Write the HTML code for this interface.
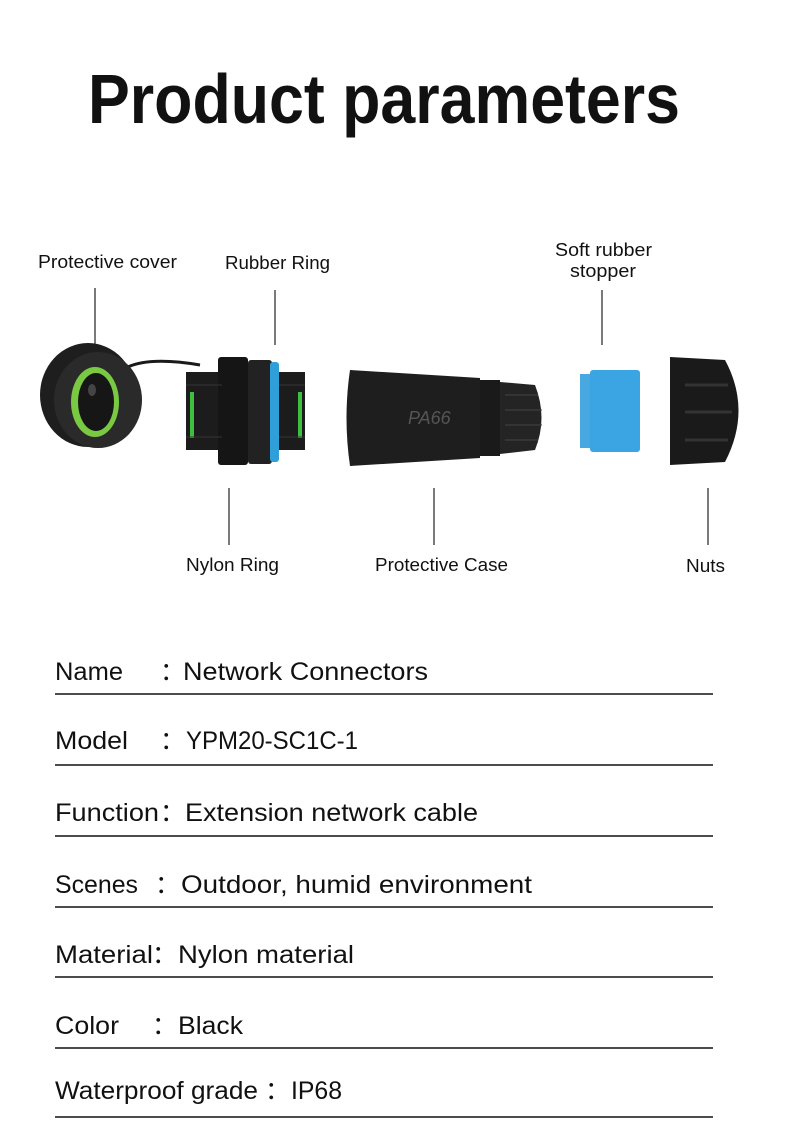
<!DOCTYPE html>
<html><head><meta charset="utf-8"><style>
html,body{margin:0;padding:0;background:#fff;}
svg{display:block;}
text{font-family:"Liberation Sans",sans-serif;fill:#111;}
</style></head><body>
<svg width="790" height="1132" viewBox="0 0 790 1132" xmlns="http://www.w3.org/2000/svg">
<rect width="790" height="1132" fill="#fff"/>
<text x="88" y="123" font-size="70" font-weight="bold" textLength="592" lengthAdjust="spacingAndGlyphs">Product parameters</text>

<g font-size="18">
<text x="38" y="268" textLength="139" lengthAdjust="spacingAndGlyphs">Protective cover</text>
<text x="225" y="269" textLength="105" lengthAdjust="spacingAndGlyphs">Rubber Ring</text>
<text x="555" y="256" textLength="97" lengthAdjust="spacingAndGlyphs">Soft rubber</text>
<text x="570" y="277" textLength="66" lengthAdjust="spacingAndGlyphs">stopper</text>
<text x="186" y="571" textLength="93" lengthAdjust="spacingAndGlyphs">Nylon Ring</text>
<text x="375" y="571" textLength="133" lengthAdjust="spacingAndGlyphs">Protective Case</text>
<text x="686" y="572" textLength="39" lengthAdjust="spacingAndGlyphs">Nuts</text>
</g>
<g stroke="#222" stroke-width="1.2">
<line x1="95" y1="288" x2="95" y2="345"/>
<line x1="275" y1="290" x2="275" y2="345"/>
<line x1="602" y1="290" x2="602" y2="345"/>
<line x1="229" y1="488" x2="229" y2="545"/>
<line x1="434" y1="488" x2="434" y2="545"/>
<line x1="708" y1="488" x2="708" y2="545"/>
</g>

<path d="M120 372 Q140 355 200 365" stroke="#1a1a1a" stroke-width="3" fill="none"/>
<ellipse cx="88" cy="395" rx="48" ry="52" fill="#1e1e1e"/>
<ellipse cx="98" cy="400" rx="44" ry="48" fill="#2a2a2a"/>
<ellipse cx="95" cy="402" rx="24" ry="35" fill="#7ac943"/>
<ellipse cx="96" cy="402" rx="18" ry="29" fill="#161616"/>
<ellipse cx="92" cy="390" rx="4" ry="6" fill="#444"/>

<rect x="186" y="372" width="36" height="78" fill="#1c1c1c"/>
<rect x="190" y="392" width="4" height="46" fill="#3fbf3f"/>
<rect x="218" y="357" width="30" height="108" rx="3" fill="#151515"/>
<rect x="248" y="360" width="24" height="104" rx="3" fill="#222"/>
<rect x="270" y="362" width="9" height="100" rx="3" fill="#2e9fd8"/>
<rect x="279" y="372" width="26" height="78" fill="#1c1c1c"/>
<rect x="298" y="392" width="4" height="46" fill="#3fbf3f"/>
<g stroke="#333" stroke-width="1"><line x1="186" y1="385" x2="222" y2="385"/><line x1="186" y1="437" x2="222" y2="437"/><line x1="279" y1="385" x2="305" y2="385"/><line x1="279" y1="437" x2="305" y2="437"/></g>

<path d="M350 370 L480 378 L480 458 L350 466 Q343 418 350 370 Z" fill="#1e1e1e"/>
<rect x="480" y="380" width="20" height="76" fill="#1a1a1a"/>
<path d="M500 382 L535 385 Q548 418 535 450 L500 454 Z" fill="#242424"/>
<g stroke="#444" stroke-width="1"><line x1="505" y1="395" x2="538" y2="395"/><line x1="505" y1="410" x2="542" y2="410"/><line x1="505" y1="425" x2="542" y2="425"/><line x1="505" y1="440" x2="538" y2="440"/></g>
<text x="408" y="424" font-size="18" font-family="Liberation Serif" font-style="italic" style="fill:#555">PA66</text>

<rect x="580" y="374" width="14" height="74" fill="#4aa8e0"/>
<rect x="590" y="370" width="50" height="82" rx="3" fill="#3aa5e2"/>

<path d="M670 357 L725 360 Q752 410 725 462 L670 465 Z" fill="#1a1a1a"/>
<g stroke="#333" stroke-width="3"><line x1="685" y1="385" x2="728" y2="385"/><line x1="685" y1="412" x2="732" y2="412"/><line x1="685" y1="440" x2="728" y2="440"/></g>

<g font-size="25">
<text x="55" y="680" textLength="68" lengthAdjust="spacingAndGlyphs">Name</text><text x="160" y="680">：</text><text x="183" y="680" textLength="245" lengthAdjust="spacingAndGlyphs">Network Connectors</text>
<text x="55" y="749" textLength="73" lengthAdjust="spacingAndGlyphs">Model</text><text x="160" y="749">：</text><text x="186" y="749" textLength="172" lengthAdjust="spacingAndGlyphs">YPM20-SC1C-1</text>
<text x="55" y="821" textLength="104" lengthAdjust="spacingAndGlyphs">Function</text><text x="160" y="821">：</text><text x="185" y="821" textLength="293" lengthAdjust="spacingAndGlyphs">Extension network cable</text>
<text x="55" y="893" textLength="83" lengthAdjust="spacingAndGlyphs">Scenes</text><text x="155" y="893">：</text><text x="181" y="893" textLength="351" lengthAdjust="spacingAndGlyphs">Outdoor, humid environment</text>
<text x="55" y="963" textLength="98" lengthAdjust="spacingAndGlyphs">Material</text><text x="152" y="963">：</text><text x="178" y="963" textLength="176" lengthAdjust="spacingAndGlyphs">Nylon material</text>
<text x="55" y="1034" textLength="64" lengthAdjust="spacingAndGlyphs">Color</text><text x="152" y="1034">：</text><text x="178" y="1034" textLength="65" lengthAdjust="spacingAndGlyphs">Black</text>
<text x="55" y="1099" textLength="203" lengthAdjust="spacingAndGlyphs">Waterproof grade</text><text x="265" y="1099">：</text><text x="291" y="1099" textLength="51" lengthAdjust="spacingAndGlyphs">IP68</text>
</g>
<g stroke="#111" stroke-width="1.5">
<line x1="55" y1="694" x2="713" y2="694"/>
<line x1="55" y1="765" x2="713" y2="765"/>
<line x1="55" y1="836" x2="713" y2="836"/>
<line x1="55" y1="907" x2="713" y2="907"/>
<line x1="55" y1="977" x2="713" y2="977"/>
<line x1="55" y1="1048" x2="713" y2="1048"/>
<line x1="55" y1="1117" x2="713" y2="1117"/>
</g>
</svg>
</body></html>
